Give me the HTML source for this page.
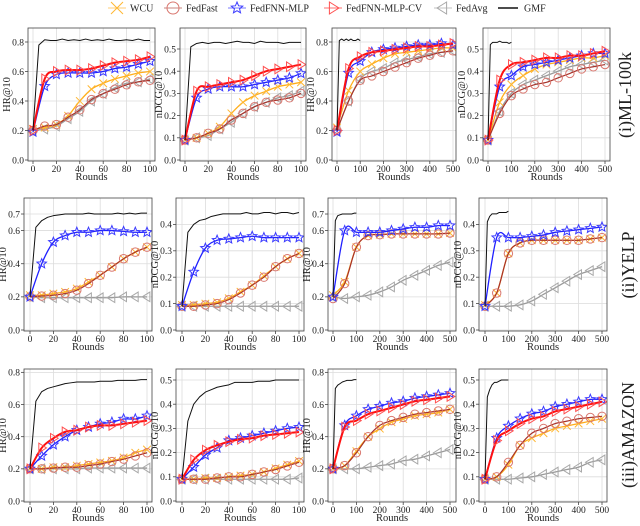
<!DOCTYPE html>
<html><head><meta charset="utf-8">
<style>
body{margin:0;background:#fff;width:640px;height:521px;overflow:hidden}
svg text{font-family:"Liberation Serif",serif;fill:#222}
</style></head>
<body>
<svg id="fig" width="640" height="521" viewBox="0 0 640 521">
 <g id="legend"></g>
 <g id="panels"></g>
 <text x="627" y="95" font-size="18" transform="rotate(-90 627 95)" text-anchor="middle" dominant-baseline="middle">(i)ML-100k</text>
 <text x="630" y="265" font-size="18" transform="rotate(-90 630 265)" text-anchor="middle" dominant-baseline="middle">(ii)YELP</text>
 <text x="630" y="435" font-size="18" transform="rotate(-90 630 435)" text-anchor="middle" dominant-baseline="middle">(iii)AMAZON</text>
</svg>
<script>
// ---- data ----
const rounds100 = [0,10,20,30,40,50,60,70,80,90,100];
const rounds500 = [0,50,100,150,200,250,300,350,400,450,500];
const gmfRounds100 = [0,5,10,15,20,25,30,35,40,45,50,55,60,65,70,75,80,85,90,95,100];
const gmfRounds500 = [0,10,20,30,40,50,60,70,80,90,100];
const seriesNames = ["WCU","FedFast","FedFNN-MLP","FedFNN-MLP-CV","FedAvg","GMF"];

// Row 1 ML-100k
const r1p1_wcu=[.21,.22,.24,.30,.40,.48,.52,.55,.57,.59,.60];
const r1p1_fedfast=[.20,.23,.24,.29,.34,.41,.45,.48,.51,.53,.54];
const r1p1_mlp=[.19,.50,.58,.59,.59,.59,.60,.62,.63,.65,.67];
const r1p1_cv=[.20,.55,.60,.61,.61,.62,.64,.66,.67,.68,.70];
const r1p1_avg=[.20,.21,.23,.28,.33,.40,.45,.49,.52,.53,.55];
const r1p1_gmf=[.20,.78,.815,.81,.81,.82,.81,.815,.81,.82,.81,.815,.81,.82,.81,.81,.815,.81,.82,.81,.81];
const r1p2_wcu=[.09,.10,.12,.15,.21,.26,.29,.31,.33,.34,.35];
const r1p2_fedfast=[.09,.10,.12,.14,.18,.21,.24,.26,.27,.28,.30];
const r1p2_mlp=[.09,.28,.32,.33,.33,.33,.34,.35,.36,.37,.39];
const r1p2_cv=[.09,.31,.33,.34,.35,.36,.38,.40,.41,.42,.43];
const r1p2_avg=[.09,.10,.11,.14,.17,.21,.24,.26,.28,.29,.31];
const r1p2_gmf=[.09,.51,.525,.53,.525,.53,.53,.525,.53,.535,.53,.53,.525,.535,.53,.53,.53,.525,.53,.53,.53];
const r1p3_wcu=[.22,.47,.60,.65,.69,.72,.73,.74,.75,.76,.76];
const r1p3_fedfast=[.20,.40,.54,.57,.60,.63,.66,.69,.71,.73,.74];
const r1p3_mlp=[.19,.59,.67,.73,.75,.76,.77,.78,.78,.79,.78];
const r1p3_cv=[.20,.62,.70,.73,.74,.75,.76,.77,.77,.78,.79];
const r1p3_avg=[.20,.40,.55,.60,.62,.66,.68,.70,.72,.73,.74];
const r1p3_gmf=[.20,.81,.82,.81,.82,.81,.82,.81,.81,.82,.81];
const r1p4_wcu=[.09,.26,.34,.38,.41,.43,.44,.45,.46,.46,.47];
const r1p4_fedfast=[.09,.21,.29,.32,.34,.35,.37,.39,.41,.42,.43];
const r1p4_mlp=[.09,.33,.38,.42,.43,.44,.45,.46,.47,.48,.48];
const r1p4_cv=[.09,.36,.43,.44,.45,.46,.46,.47,.47,.48,.49];
const r1p4_avg=[.09,.22,.30,.34,.36,.38,.40,.42,.43,.44,.45];
const r1p4_gmf=[.09,.52,.53,.53,.53,.535,.53,.53,.53,.525,.53];
// Row 2 YELP
const r2p1_wcu=[.21,.21,.22,.23,.25,.29,.33,.38,.43,.47,.50];
const r2p1_fedfast=[.20,.205,.21,.22,.24,.28,.33,.38,.43,.47,.50];
const r2p1_mlp=[.20,.40,.53,.57,.59,.59,.60,.60,.595,.59,.59];
const r2p1_avg=[.20,.195,.195,.195,.195,.195,.195,.195,.20,.20,.20];
const r2p1_gmf=[.20,.62,.66,.68,.69,.695,.70,.70,.70,.70,.705,.70,.70,.70,.70,.705,.70,.705,.70,.705,.705];
const r2p2_wcu=[.095,.095,.10,.105,.12,.145,.17,.205,.24,.27,.29];
const r2p2_fedfast=[.09,.09,.095,.10,.115,.14,.17,.20,.24,.27,.29];
const r2p2_mlp=[.09,.22,.31,.34,.345,.35,.355,.35,.35,.35,.35];
const r2p2_avg=[.09,.09,.09,.09,.09,.09,.09,.09,.09,.09,.09];
const r2p2_gmf=[.09,.37,.40,.415,.42,.43,.435,.44,.44,.44,.44,.445,.44,.44,.445,.445,.44,.445,.445,.44,.445];
const r2p3_wcu=[.21,.29,.50,.57,.575,.58,.58,.58,.58,.58,.585];
const r2p3_fedfast=[.19,.28,.50,.57,.575,.58,.58,.58,.58,.58,.585];
const r2p3_mlp=[.20,.60,.59,.59,.59,.60,.61,.62,.62,.63,.63];
const r2p3_avg=[.20,.19,.20,.21,.23,.26,.30,.33,.36,.39,.41];
const r2p3_gmf=[.20,.66,.69,.695,.70,.70,.70,.70,.70,.705,.705];
const r2p4_wcu=[.095,.14,.29,.33,.34,.34,.34,.34,.34,.345,.35];
const r2p4_fedfast=[.09,.14,.29,.33,.34,.34,.34,.34,.34,.345,.35];
const r2p4_mlp=[.09,.35,.35,.35,.355,.36,.37,.375,.38,.385,.39];
const r2p4_avg=[.09,.09,.09,.095,.11,.135,.16,.185,.21,.225,.24];
const r2p4_gmf=[.09,.41,.43,.44,.44,.44,.445,.445,.445,.445,.45];
// Row 3 AMAZON
const r3p1_wcu=[.20,.20,.21,.21,.22,.23,.24,.25,.27,.30,.32];
const r3p1_fedfast=[.20,.20,.205,.21,.21,.22,.23,.245,.26,.28,.30];
const r3p1_mlp=[.20,.28,.35,.40,.44,.46,.48,.49,.51,.51,.53];
const r3p1_cv=[.20,.33,.39,.43,.44,.46,.47,.47,.48,.49,.50];
const r3p1_avg=[.20,.20,.20,.20,.20,.205,.205,.205,.205,.205,.205];
const r3p1_gmf=[.20,.62,.68,.70,.71,.72,.73,.735,.74,.74,.74,.74,.745,.745,.745,.75,.75,.75,.75,.755,.755];
const r3p2_wcu=[.09,.09,.095,.095,.10,.105,.11,.12,.135,.15,.165];
const r3p2_fedfast=[.09,.09,.09,.095,.10,.10,.11,.12,.13,.145,.16];
const r3p2_mlp=[.09,.14,.19,.22,.25,.26,.27,.28,.29,.30,.305];
const r3p2_cv=[.09,.17,.21,.23,.245,.255,.26,.27,.275,.28,.285];
const r3p2_avg=[.09,.09,.09,.09,.09,.09,.09,.09,.09,.09,.095];
const r3p2_gmf=[.09,.33,.40,.43,.45,.46,.47,.475,.48,.49,.49,.49,.49,.495,.495,.495,.50,.50,.50,.50,.50];
const r3p3_wcu=[.20,.22,.31,.40,.45,.49,.51,.53,.54,.55,.57];
const r3p3_fedfast=[.20,.22,.30,.40,.47,.50,.52,.54,.55,.56,.57];
const r3p3_mlp=[.20,.47,.53,.57,.59,.61,.62,.64,.65,.66,.67];
const r3p3_cv=[.20,.46,.50,.54,.56,.58,.60,.62,.63,.64,.65];
const r3p3_avg=[.20,.20,.20,.21,.22,.23,.25,.26,.28,.30,.32];
const r3p3_gmf=[.20,.70,.72,.73,.74,.745,.75,.75,.75,.755,.755];
const r3p4_wcu=[.09,.10,.15,.23,.26,.28,.30,.31,.32,.33,.34];
const r3p4_fedfast=[.09,.10,.16,.23,.28,.30,.32,.33,.34,.345,.35];
const r3p4_mlp=[.09,.26,.31,.34,.36,.37,.39,.40,.41,.42,.42];
const r3p4_cv=[.09,.25,.29,.32,.34,.35,.37,.38,.39,.40,.41];
const r3p4_avg=[.09,.09,.09,.095,.10,.11,.12,.13,.14,.16,.17];
const r3p4_gmf=[.09,.43,.46,.48,.49,.49,.495,.50,.50,.50,.50];

const xTicks100=[0,20,40,60,80,100];
const xTicks500=[0,100,200,300,400,500];
const yTicksHR=[0,0.2,0.4,0.6,0.8];
const yTicksHRYelp=[0,0.2,0.4,0.6,0.7];
const yTicksNDCG5=[0,0.1,0.2,0.3,0.4,0.5];
const yTicksNDCG4=[0,0.1,0.2,0.3,0.4];

// ---- layout (pixels) ----
const panels=[
 {id:'ml100k-hr-100',l:28,r:155,t:28,b:161,x0:33,xN:150,xmax:100,y0:160,k:147.5,yl:'HR@10',yt:yTicksHR,
  s:{wcu:r1p1_wcu,fedfast:r1p1_fedfast,mlp:r1p1_mlp,cv:r1p1_cv,avg:r1p1_avg,gmf:r1p1_gmf}},
 {id:'ml100k-ndcg-100',l:180,r:306,t:28,b:161,x0:185,xN:301,xmax:100,y0:160,k:222,yl:'nDCG@10',yt:yTicksNDCG5,
  s:{wcu:r1p2_wcu,fedfast:r1p2_fedfast,mlp:r1p2_mlp,cv:r1p2_cv,avg:r1p2_avg,gmf:r1p2_gmf}},
 {id:'ml100k-hr-500',l:332,r:456,t:28,b:161,x0:337,xN:453,xmax:500,y0:160,k:147.5,yl:'HR@10',yt:yTicksHR,
  s:{wcu:r1p3_wcu,fedfast:r1p3_fedfast,mlp:r1p3_mlp,cv:r1p3_cv,avg:r1p3_avg,gmf:r1p3_gmf}},
 {id:'ml100k-ndcg-500',l:483,r:610,t:28,b:161,x0:488,xN:605,xmax:500,y0:160,k:222,yl:'nDCG@10',yt:yTicksNDCG5,
  s:{wcu:r1p4_wcu,fedfast:r1p4_fedfast,mlp:r1p4_mlp,cv:r1p4_cv,avg:r1p4_avg,gmf:r1p4_gmf}},
 {id:'yelp-hr-100',l:24,r:152,t:198,b:331,x0:30,xN:147,xmax:100,y0:330,k:165.7,yl:'HR@10',yt:yTicksHRYelp,
  s:{wcu:r2p1_wcu,fedfast:r2p1_fedfast,mlp:r2p1_mlp,avg:r2p1_avg,gmf:r2p1_gmf}},
 {id:'yelp-ndcg-100',l:176,r:304,t:198,b:331,x0:182,xN:299,xmax:100,y0:330,k:264,yl:'nDCG@10',yt:yTicksNDCG4,
  s:{wcu:r2p2_wcu,fedfast:r2p2_fedfast,mlp:r2p2_mlp,avg:r2p2_avg,gmf:r2p2_gmf}},
 {id:'yelp-hr-500',l:328,r:456,t:198,b:331,x0:333,xN:450,xmax:500,y0:330,k:165.7,yl:'HR@10',yt:yTicksHRYelp,
  s:{wcu:r2p3_wcu,fedfast:r2p3_fedfast,mlp:r2p3_mlp,avg:r2p3_avg,gmf:r2p3_gmf}},
 {id:'yelp-ndcg-500',l:479,r:607,t:198,b:331,x0:485,xN:602,xmax:500,y0:330,k:264,yl:'nDCG@10',yt:yTicksNDCG4,
  s:{wcu:r2p4_wcu,fedfast:r2p4_fedfast,mlp:r2p4_mlp,avg:r2p4_avg,gmf:r2p4_gmf}},
 {id:'amazon-hr-100',l:24,r:152,t:369,b:502,x0:30,xN:147,xmax:100,y0:501,k:160.8,yl:'HR@10',yt:yTicksHR,
  s:{wcu:r3p1_wcu,fedfast:r3p1_fedfast,mlp:r3p1_mlp,cv:r3p1_cv,avg:r3p1_avg,gmf:r3p1_gmf}},
 {id:'amazon-ndcg-100',l:176,r:304,t:369,b:502,x0:182,xN:299,xmax:100,y0:501,k:242,yl:'nDCG@10',yt:yTicksNDCG5,
  s:{wcu:r3p2_wcu,fedfast:r3p2_fedfast,mlp:r3p2_mlp,cv:r3p2_cv,avg:r3p2_avg,gmf:r3p2_gmf}},
 {id:'amazon-hr-500',l:328,r:456,t:369,b:502,x0:333,xN:450,xmax:500,y0:501,k:160.8,yl:'HR@10',yt:yTicksHR,
  s:{wcu:r3p3_wcu,fedfast:r3p3_fedfast,mlp:r3p3_mlp,cv:r3p3_cv,avg:r3p3_avg,gmf:r3p3_gmf}},
 {id:'amazon-ndcg-500',l:479,r:607,t:369,b:502,x0:485,xN:602,xmax:500,y0:501,k:242,yl:'nDCG@10',yt:yTicksNDCG5,
  s:{wcu:r3p4_wcu,fedfast:r3p4_fedfast,mlp:r3p4_mlp,cv:r3p4_cv,avg:r3p4_avg,gmf:r3p4_gmf}}
];
const styles={
 wcu:{line:'#ffae1a',mk:'#ffb732',w:1.3,m:'x'},
 fedfast:{line:'#a8322a',mk:'#d9776f',w:1.2,m:'o'},
 mlp:{line:'#1f1fff',mk:'#3a3aff',w:1.3,m:'star'},
 cv:{line:'#ff1010',mk:'#ff5050',w:2,m:'tri-r'},
 avg:{line:'#9a9a9a',mk:'#a8a8a8',w:1.3,m:'tri-l'},
 gmf:{line:'#111',mk:null,w:1,m:null}
};
const order=['avg','wcu','fedfast','mlp','cv','gmf'];
const NS='http://www.w3.org/2000/svg';
function mk(tag,attrs,parent){const e=document.createElementNS(NS,tag);for(const a in attrs)e.setAttribute(a,attrs[a]);parent.appendChild(e);return e;}
function markerPath(type,x,y,r){
 if(type==='x')return `M${x-r},${y-r}L${x+r},${y+r}M${x-r},${y+r}L${x+r},${y-r}`;
 if(type==='tri-r')return `M${x+r},${y}L${x-r*0.6},${y-r}L${x-r*0.6},${y+r}Z`;
 if(type==='tri-l')return `M${x-r},${y}L${x+r*0.6},${y-r}L${x+r*0.6},${y+r}Z`;
 if(type==='star'){let d='';for(let i=0;i<10;i++){const a=-Math.PI/2+i*Math.PI/5;const rr=i%2?r*0.45:r;d+=(i?'L':'M')+(x+rr*Math.cos(a)).toFixed(2)+','+(y+rr*Math.sin(a)).toFixed(2);}return d+'Z';}
 return '';
}
function smooth(pts){
 let d=`M${pts[0][0]},${pts[0][1]}`;
 for(let i=0;i<pts.length-1;i++){
  const p0=pts[i-1]||pts[i],p1=pts[i],p2=pts[i+1],p3=pts[i+2]||p2;
  const c1=[p1[0]+(p2[0]-p0[0])/6,p1[1]+(p2[1]-p0[1])/6];
  const c2=[p2[0]-(p3[0]-p1[0])/6,p2[1]-(p3[1]-p1[1])/6];
  d+=`C${c1[0].toFixed(2)},${c1[1].toFixed(2)} ${c2[0].toFixed(2)},${c2[1].toFixed(2)} ${p2[0].toFixed(2)},${p2[1].toFixed(2)}`;
 }
 return d;
}
const root=document.getElementById('panels');
panels.forEach(p=>{
 const g=mk('g',{},root);
 
 
 const X=v=>p.x0+(p.xN-p.x0)*v/p.xmax;
 const Y=v=>p.y0-p.k*v;
 const xt=p.xmax===100?xTicks100:xTicks500;
 xt.forEach(t=>{const l=mk('line',{x1:X(t),x2:X(t),y1:p.t,y2:p.b,stroke:'#dcdcdc','stroke-width':0.8},g);
  });
 p.yt.forEach(t=>{const l=mk('line',{x1:p.l,x2:p.r,y1:Y(t),y2:Y(t),stroke:'#dcdcdc','stroke-width':0.8},g);
  });
 const clip='clip-'+p.id;
 const cp=mk('clipPath',{id:clip},g);mk('rect',{x:p.l,y:p.t,width:p.r-p.l,height:p.b-p.t},cp);
 const sg=mk('g',{'clip-path':`url(#${clip})`},g);
 order.forEach(key=>{
  const vals=p.s[key];if(!vals)return;
  const st=styles[key];
  const xs=key==='gmf'?(p.xmax===100?gmfRounds100:gmfRounds500):(p.xmax===100?rounds100:rounds500);
  const pts=vals.map((v,i)=>[X(xs[i]),Y(v)]);
  const path=mk('path',{d:key==='gmf'?'M'+pts.map(q=>q[0].toFixed(2)+','+q[1].toFixed(2)).join('L'):smooth(pts),fill:'none',stroke:st.line,'stroke-width':st.w,'stroke-linejoin':'round'},sg);
  
  
  if(st.m){
   pts.forEach(q=>{
    let m;
    if(st.m==='o')m=mk('circle',{cx:q[0],cy:q[1],r:4.2,fill:'none',stroke:st.mk,'stroke-width':1},sg);
    else m=mk('path',{d:markerPath(st.m,q[0],q[1],st.m==='x'?3.8:(st.m==='star'?5:4.8)),fill:'none',stroke:st.mk,'stroke-width':1},sg);
    
    
   });
  }
 });
 const fr=mk('rect',{x:p.l,y:p.t,width:p.r-p.l,height:p.b-p.t,fill:'none',stroke:'#444','stroke-width':0.8},g);
 
 xt.forEach(t=>{
  mk('line',{x1:X(t),x2:X(t),y1:p.b,y2:p.b+3,stroke:'#444','stroke-width':0.8},g);
  const tx=mk('text',{x:X(t),y:p.b+11,'font-size':9.5,'text-anchor':'middle'},g);tx.textContent=t;
  
 });
 p.yt.forEach(t=>{
  mk('line',{x1:p.l-3,x2:p.l,y1:Y(t),y2:Y(t),stroke:'#444','stroke-width':0.8},g);
  const tx=mk('text',{x:p.l-4,y:Y(t)+3.3,'font-size':9.5,'text-anchor':'end'},g);tx.textContent=t.toFixed(1);
  
 });
 const xl=mk('text',{x:(p.l+p.r)/2,y:p.b+19,'font-size':10.5,'text-anchor':'middle'},g);xl.textContent='Rounds';
 
 const yx=p.l-18,yy=(p.t+p.b)/2;
 const yl=mk('text',{x:yx,y:yy,'font-size':10.5,'text-anchor':'middle',transform:`rotate(-90 ${yx} ${yy})`},g);yl.textContent=p.yl;
 
});
const lg=document.getElementById('legend');
const legendKeys=['wcu','fedfast','mlp','cv','avg','gmf'];
const legendX=[117,173,237,333,443,500];
legendKeys.forEach((key,i)=>{
 const st=styles[key];
 const eg=mk('g',{},lg);
 
 
 const cx=legendX[i],cy=8;
 if(key==='gmf'){mk('line',{x1:cx-2,x2:cx+18,y1:cy,y2:cy,stroke:'#111','stroke-width':1.5},eg);}
 else{
  mk('line',{x1:cx-9,x2:cx+9,y1:cy,y2:cy,stroke:st.line,'stroke-width':1,opacity:0.6},eg);
  if(st.m==='o')mk('circle',{cx:cx,cy:cy,r:6,fill:'none',stroke:st.mk,'stroke-width':1},eg);
  else mk('path',{d:markerPath(st.m,cx,cy,6),fill:'none',stroke:st.mk,'stroke-width':1},eg);
 }
 const t=mk('text',{x:key==='gmf'?cx+24:cx+13,y:cy+3.5,'font-size':10},eg);t.textContent=seriesNames[i];
});
</script>
</body></html>
